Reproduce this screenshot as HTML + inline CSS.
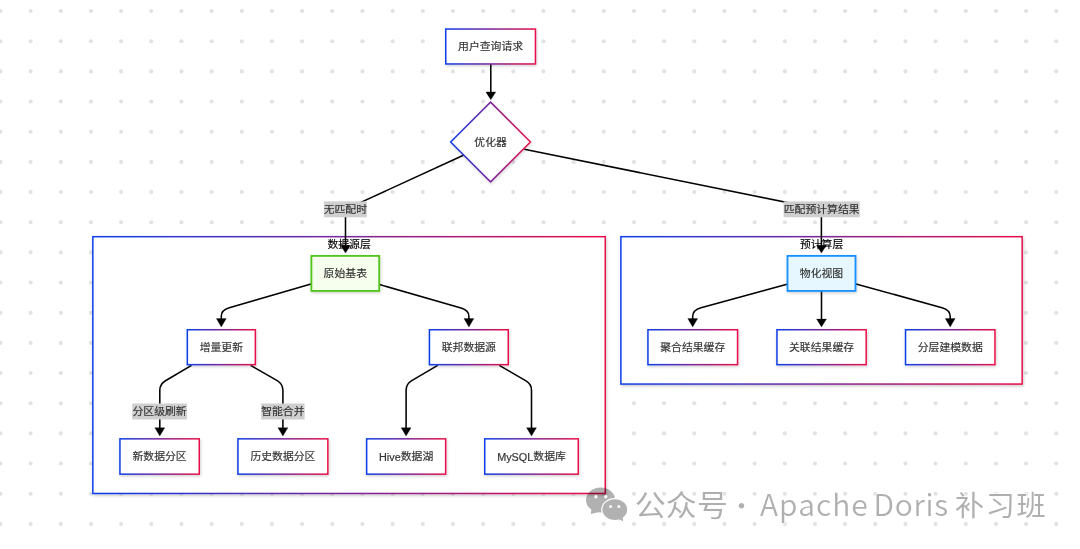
<!DOCTYPE html>
<html lang="zh-CN"><head><meta charset="utf-8"><title>flow</title>
<style>
html,body{margin:0;padding:0;background:#fff;}
body{width:1080px;height:549px;overflow:hidden;}
svg{display:block;}
text{font-family:"Liberation Sans","Noto Sans CJK SC",sans-serif;}
.nl{font-size:10.85px;fill:#333;stroke:#333;stroke-width:.18px;text-anchor:middle;dominant-baseline:central;}
.el{font-size:10.85px;fill:#333;stroke:#333;stroke-width:.18px;text-anchor:middle;dominant-baseline:central;}
.tl{font-size:10.85px;fill:#000;stroke:#000;stroke-width:.15px;text-anchor:middle;dominant-baseline:central;}
.edge{fill:none;stroke:#000;stroke-width:1.55;}
.wm{font-family:"Noto Sans CJK SC",sans-serif;font-weight:350;font-size:30px;letter-spacing:1.05px;fill:#000;fill-opacity:.315;stroke:#fff;stroke-width:1.3;stroke-linejoin:round;paint-order:stroke;}
.wm .d{font-size:27px;letter-spacing:0;}
.wm.c{font-size:29.5px;letter-spacing:.12px;font-weight:400;}
.wm.c2{font-size:28.3px;letter-spacing:1.6px;font-weight:400;}
</style></head><body>
<svg width="1080" height="549" viewBox="0 0 1080 549">
<defs>
<linearGradient id="g" x1="0" y1="0" x2="1" y2="0"><stop offset="0" stop-color="#0d3eea"/><stop offset="1" stop-color="#ea0f48"/></linearGradient>
<filter id="sh" x="-10%" y="-20%" width="120%" height="150%"><feDropShadow dx="0.6" dy="1.3" stdDeviation="1.5" flood-color="#000" flood-opacity="0.2"/></filter>
<filter id="sh2" x="-5%" y="-5%" width="110%" height="112%"><feDropShadow dx="0.8" dy="1.5" stdDeviation="1.8" flood-color="#000" flood-opacity="0.22"/></filter>
<mask id="mk" maskUnits="userSpaceOnUse" x="580" y="480" width="60" height="50"><rect x="580" y="480" width="60" height="50" fill="#fff"/><ellipse cx="614.8" cy="509.6" rx="13.6" ry="11.5" fill="#000"/></mask>
</defs>
<rect width="1080" height="549" fill="#fff"/>
<g fill="#e1e1e6" transform="translate(0,11.06)"><g id="dr"><circle cx="0.46" cy="0" r="2.05"/><circle cx="30.63" cy="0" r="2.05"/><circle cx="60.79" cy="0" r="2.05"/><circle cx="90.96" cy="0" r="2.05"/><circle cx="121.12" cy="0" r="2.05"/><circle cx="151.29" cy="0" r="2.05"/><circle cx="181.46" cy="0" r="2.05"/><circle cx="211.62" cy="0" r="2.05"/><circle cx="241.79" cy="0" r="2.05"/><circle cx="271.95" cy="0" r="2.05"/><circle cx="302.12" cy="0" r="2.05"/><circle cx="332.29" cy="0" r="2.05"/><circle cx="362.45" cy="0" r="2.05"/><circle cx="392.62" cy="0" r="2.05"/><circle cx="422.78" cy="0" r="2.05"/><circle cx="452.95" cy="0" r="2.05"/><circle cx="483.12" cy="0" r="2.05"/><circle cx="513.28" cy="0" r="2.05"/><circle cx="543.45" cy="0" r="2.05"/><circle cx="573.61" cy="0" r="2.05"/><circle cx="603.78" cy="0" r="2.05"/><circle cx="633.95" cy="0" r="2.05"/><circle cx="664.11" cy="0" r="2.05"/><circle cx="694.28" cy="0" r="2.05"/><circle cx="724.44" cy="0" r="2.05"/><circle cx="754.61" cy="0" r="2.05"/><circle cx="784.78" cy="0" r="2.05"/><circle cx="814.94" cy="0" r="2.05"/><circle cx="845.11" cy="0" r="2.05"/><circle cx="875.27" cy="0" r="2.05"/><circle cx="905.44" cy="0" r="2.05"/><circle cx="935.61" cy="0" r="2.05"/><circle cx="965.77" cy="0" r="2.05"/><circle cx="995.94" cy="0" r="2.05"/><circle cx="1026.10" cy="0" r="2.05"/><circle cx="1056.27" cy="0" r="2.05"/></g><use href="#dr" y="30.17"/><use href="#dr" y="60.33"/><use href="#dr" y="90.50"/><use href="#dr" y="120.67"/><use href="#dr" y="150.84"/><use href="#dr" y="181.00"/><use href="#dr" y="211.17"/><use href="#dr" y="241.34"/><use href="#dr" y="271.50"/><use href="#dr" y="301.67"/><use href="#dr" y="331.84"/><use href="#dr" y="362.00"/><use href="#dr" y="392.17"/><use href="#dr" y="422.34"/><use href="#dr" y="452.50"/><use href="#dr" y="482.67"/><use href="#dr" y="512.84"/></g>
<g opacity="0.999">

<rect x="92.85" y="236.70" width="512.40" height="256.75" fill="#fff" stroke="url(#g)" stroke-width="1.5" filter="url(#sh2)"/>
<text class="tl" transform="translate(349.10 244.40) scale(1 0.93)">数据源层</text>
<rect x="620.90" y="236.70" width="401.25" height="147.35" fill="#fff" stroke="url(#g)" stroke-width="1.5" filter="url(#sh2)"/>
<text class="tl" transform="translate(821.60 244.40) scale(1 0.93)">预计算层</text>
<g class="edge">
<path d="M490.8,64 L490.8,93"/>
<path d="M463.4,155.2 L345.5,209.4 L345.5,246"/>
<path d="M524.3,149.2 L821.4,209.4 L821.4,246"/>
<path d="M311,284.1 L229.3,307.8 Q221.3,310.1 221.3,316.3 L221.3,320"/>
<path d="M379.6,284.6 L461,308.1 Q468.9,310.3 468.9,316.3 L468.9,320"/>
<path d="M191.5,365.3 L165.9,380.5 Q159.8,384.0 159.8,390.3 L159.8,429"/>
<path d="M250.6,365.3 L277.2,380.7 Q282.9,384.0 282.9,390.3 L282.9,429"/>
<path d="M437.7,365.3 L411.7,380.7 Q406.1,384.0 406.1,390.3 L406.1,429"/>
<path d="M499.3,365.3 L526,380.8 Q531.5,384.0 531.5,390.3 L531.5,429"/>
<path d="M787,284.2 L701,307.7 Q692.7,310.1 692.7,316.3 L692.7,320"/>
<path d="M821.5,291 L821.5,320"/>
<path d="M856,283.9 L942,307.7 Q950.2,310.1 950.2,316.3 L950.2,320"/>
</g>
<path d="M485.85,91.90 L495.75,91.90 L490.80,99.70 Z" fill="#000" stroke="#000" stroke-width=".3" stroke-linejoin="round"/>
<path d="M340.55,245.30 L350.45,245.30 L345.50,253.10 Z" fill="#000" stroke="#000" stroke-width=".3" stroke-linejoin="round"/>
<path d="M816.45,245.30 L826.35,245.30 L821.40,253.10 Z" fill="#000" stroke="#000" stroke-width=".3" stroke-linejoin="round"/>
<path d="M216.35,318.60 L226.25,318.60 L221.30,326.90 Z" fill="#000" stroke="#000" stroke-width=".3" stroke-linejoin="round"/>
<path d="M463.95,318.60 L473.85,318.60 L468.90,326.90 Z" fill="#000" stroke="#000" stroke-width=".3" stroke-linejoin="round"/>
<path d="M154.85,427.70 L164.75,427.70 L159.80,436.00 Z" fill="#000" stroke="#000" stroke-width=".3" stroke-linejoin="round"/>
<path d="M277.95,427.70 L287.85,427.70 L282.90,436.00 Z" fill="#000" stroke="#000" stroke-width=".3" stroke-linejoin="round"/>
<path d="M401.15,427.70 L411.05,427.70 L406.10,436.00 Z" fill="#000" stroke="#000" stroke-width=".3" stroke-linejoin="round"/>
<path d="M526.55,427.70 L536.45,427.70 L531.50,436.00 Z" fill="#000" stroke="#000" stroke-width=".3" stroke-linejoin="round"/>
<path d="M687.75,318.60 L697.65,318.60 L692.70,326.90 Z" fill="#000" stroke="#000" stroke-width=".3" stroke-linejoin="round"/>
<path d="M816.55,319.10 L826.45,319.10 L821.50,326.90 Z" fill="#000" stroke="#000" stroke-width=".3" stroke-linejoin="round"/>
<path d="M945.25,318.60 L955.15,318.60 L950.20,326.90 Z" fill="#000" stroke="#000" stroke-width=".3" stroke-linejoin="round"/>
<path d="M490.55,102.15 L530.4,142.0 L490.55,181.85 L450.7,142.0 Z" fill="#fff" stroke="url(#g)" stroke-width="1.5" filter="url(#sh)"/>
<text class="nl" transform="translate(490.55 142.30) scale(1 0.93)">优化器</text>
<rect x="445.75" y="29.05" width="89.70" height="34.90" fill="#fff" stroke="url(#g)" stroke-width="1.5" filter="url(#sh)"/>
<text class="nl" transform="translate(490.60 46.60) scale(1 0.93)">用户查询请求</text>
<rect x="311.40" y="255.90" width="67.80" height="35.00" fill="#f6ffed" stroke="#52c41a" stroke-width="1.8" filter="url(#sh)"/>
<text class="nl" transform="translate(345.30 273.50) scale(1 0.93)">原始基表</text>
<rect x="187.35" y="329.75" width="68.00" height="34.90" fill="#fff" stroke="url(#g)" stroke-width="1.5" filter="url(#sh)"/>
<text class="nl" transform="translate(221.35 347.30) scale(1 0.93)">增量更新</text>
<rect x="429.45" y="329.75" width="78.80" height="34.90" fill="#fff" stroke="url(#g)" stroke-width="1.5" filter="url(#sh)"/>
<text class="nl" transform="translate(468.85 347.30) scale(1 0.93)">联邦数据源</text>
<rect x="119.95" y="438.85" width="79.30" height="35.30" fill="#fff" stroke="url(#g)" stroke-width="1.5" filter="url(#sh)"/>
<text class="nl" transform="translate(159.60 456.60) scale(1 0.93)">新数据分区</text>
<rect x="237.95" y="438.85" width="89.90" height="35.30" fill="#fff" stroke="url(#g)" stroke-width="1.5" filter="url(#sh)"/>
<text class="nl" transform="translate(282.90 456.60) scale(1 0.93)">历史数据分区</text>
<rect x="366.65" y="438.85" width="79.00" height="35.30" fill="#fff" stroke="url(#g)" stroke-width="1.5" filter="url(#sh)"/>
<text class="nl" style="text-anchor:end" x="400.72" y="456.60">Hive</text><text class="nl" style="text-anchor:start" transform="translate(400.72 456.60) scale(1 0.93)">数据湖</text>
<rect x="484.75" y="438.85" width="93.50" height="35.30" fill="#fff" stroke="url(#g)" stroke-width="1.5" filter="url(#sh)"/>
<text class="nl" style="text-anchor:end" x="533.31" y="456.60">MySQL</text><text class="nl" style="text-anchor:start" transform="translate(533.31 456.60) scale(1 0.93)">数据库</text>
<rect x="787.50" y="255.90" width="68.00" height="35.00" fill="#e6f7ff" stroke="#1890ff" stroke-width="1.8" filter="url(#sh)"/>
<text class="nl" transform="translate(821.50 273.50) scale(1 0.93)">物化视图</text>
<rect x="647.95" y="329.75" width="89.60" height="34.90" fill="#fff" stroke="url(#g)" stroke-width="1.5" filter="url(#sh)"/>
<text class="nl" transform="translate(692.75 347.30) scale(1 0.93)">聚合结果缓存</text>
<rect x="776.95" y="329.75" width="89.20" height="34.90" fill="#fff" stroke="url(#g)" stroke-width="1.5" filter="url(#sh)"/>
<text class="nl" transform="translate(821.55 347.30) scale(1 0.93)">关联结果缓存</text>
<rect x="905.55" y="329.75" width="89.40" height="34.90" fill="#fff" stroke="url(#g)" stroke-width="1.5" filter="url(#sh)"/>
<text class="nl" transform="translate(950.25 347.30) scale(1 0.93)">分层建模数据</text>
<rect x="323.9" y="201.4" width="42.90" height="15.90" fill="#cfcfcf"/>
<text class="el" transform="translate(345.35 209.25) scale(1 0.93)">无匹配时</text>
<rect x="783.6" y="201.4" width="76.10" height="15.90" fill="#cfcfcf"/>
<text class="el" transform="translate(821.65 209.25) scale(1 0.93)">匹配预计算结果</text>
<rect x="132.2" y="403.5" width="54.70" height="16.00" fill="#cfcfcf"/>
<text class="el" transform="translate(159.55 411.40) scale(1 0.93)">分区级刷新</text>
<rect x="261.1" y="403.5" width="43.50" height="16.00" fill="#cfcfcf"/>
<text class="el" transform="translate(282.85 411.40) scale(1 0.93)">智能合并</text>
<g fill="#000" opacity=".31">
<g mask="url(#mk)"><ellipse cx="600.6" cy="500" rx="14.6" ry="12.4"/><path d="M591.5,508.5 L590.8,514.1 L598,512.3 Z"/></g>
<ellipse cx="614.8" cy="509.6" rx="12.4" ry="10.3"/><path d="M618.3,518.9 L623.1,521.3 L622.8,516.2 Z"/>
</g>
<circle cx="595.9" cy="496.7" r="1.7" fill="#fff"/><circle cx="605.8" cy="496.7" r="1.7" fill="#fff"/>
<circle cx="610.6" cy="506.4" r="1.5" fill="#fff"/><circle cx="618.8" cy="506.4" r="1.5" fill="#fff"/>
<text class="wm c" transform="translate(634.7,515.7) scale(1.05,1)">公众号</text>
<text class="wm" y="516"><tspan class="d" x="727.9">·</tspan><tspan x="760">Apache</tspan><tspan x="873.5" style="letter-spacing:.7px">Doris</tspan></text>
<text class="wm c2" transform="translate(954.9,515.7) scale(1.03,1)">补习班</text>

</g></svg></body></html>
